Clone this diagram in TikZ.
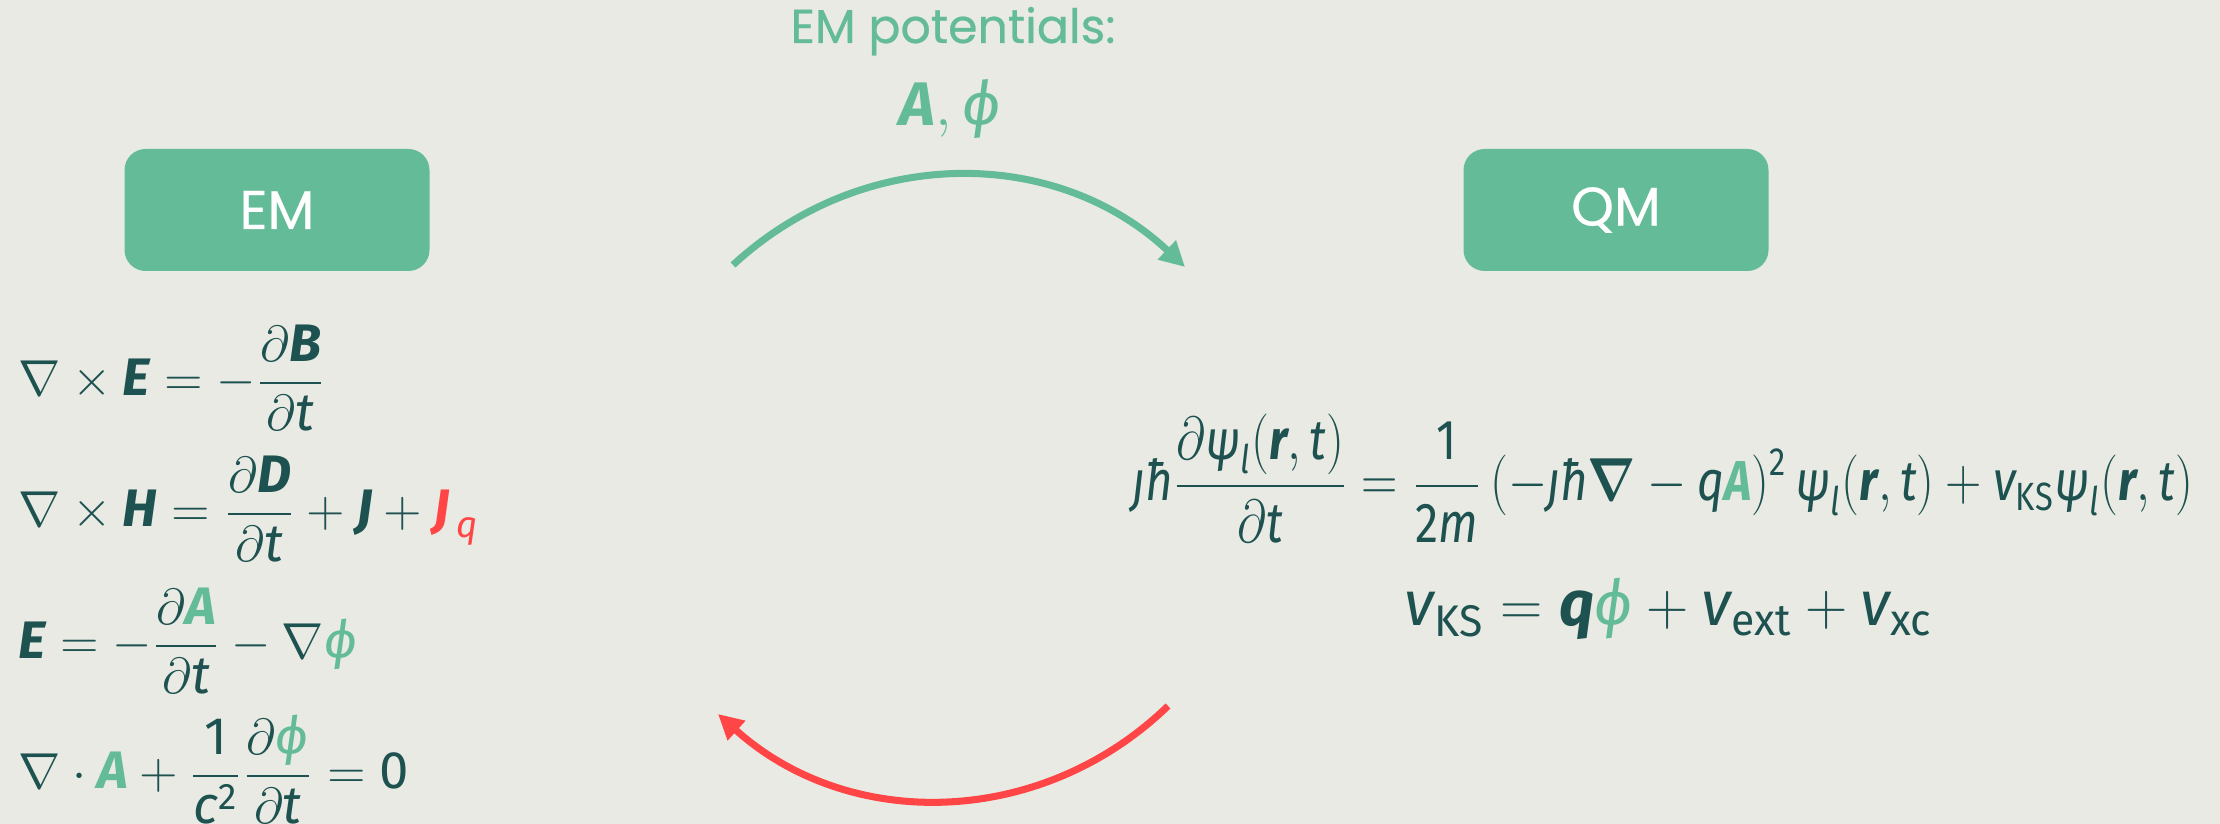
\documentclass[tikz,border=0pt]{standalone}
\usepackage{amsmath}
\IfFileExists{mathspec.sty}{%
  \usepackage{mathspec}
  \setmathsfont(Digits,Latin,Greek){Fira Sans}
  \setmathrm{Fira Sans}
}{%
  \usepackage{fontspec}
}
\newfontfamily\labelfont{Poppins}[FakeBold=0.5]
\newfontfamily\vecfont{Fira Sans}
\usepackage{xcolor}
\usepackage{tikz}
\usetikzlibrary{arrows.meta, positioning}
\definecolor{bggray}{RGB}{233,234,228}
\definecolor{emgreen}{RGB}{100,187,151}
\definecolor{eqdark}{RGB}{30,82,80}
\definecolor{hotred}{RGB}{255,69,69}
\newcommand{\vect}[1]{\text{\vecfont\bfseries\itshape #1}}
\newcommand{\jh}{\text{\vecfont\itshape ȷħ}}
\newcommand{\pot}{\textcolor{emgreen}{\varphi}}
\tikzset{
  tagbox/.style={rectangle, fill=emgreen, rounded corners=6pt,
    minimum width=3.05cm, minimum height=1.22cm, text=white,
    font=\labelfont\fontsize{15.5}{18}\selectfont},
  eqn/.style={anchor=base west, inner sep=0pt, text=eqdark,
    font=\fontsize{15}{18}\selectfont},
  flow/.style={-{Triangle[length=0.25cm, width=0.25cm]}, line width=2pt}
}

\begin{document}
\begin{tikzpicture}
  \useasboundingbox[fill=bggray] (0,0) rectangle (22.2,-8.24);

  % Boxes
  \node[tagbox] (em) at (2.77,-2.10) {EM};
  \node[tagbox] (qm) at (16.16,-2.10) {QM};

  % Potentials handed over
  \node[anchor=base, text=emgreen, font=\labelfont\fontsize{13.5}{16}\selectfont] (pot) at (9.53,-0.43) {EM potentials:};
  \node[anchor=base, text=emgreen, font=\fontsize{17.5}{21}\selectfont] (fields) at (9.50,-1.26) {$\vect{A}, \varphi$};

  % Maxwell side
  \node[eqn] (faraday) at (0.18,-3.96) {$\displaystyle \nabla\times\vect{E}=-\frac{\partial\vect{B}}{\partial t}$};
  \node[eqn] (ampere) at (0.18,-5.27) {$\displaystyle \nabla\times\vect{H}=\frac{\partial\vect{D}}{\partial t}+\vect{J}+\textcolor{hotred}{\vect{J}_{\,q}}$};
  \node[eqn] (efield) at (0.18,-6.59) {$\displaystyle \vect{E}=-\frac{\partial\textcolor{emgreen}{\vect{A}}}{\partial t}-\nabla\pot$};
  \node[eqn] (gauge) at (0.18,-7.89) {$\displaystyle \nabla\cdot\textcolor{emgreen}{\vect{A}}+\frac{1}{c^2}\frac{\partial\pot}{\partial t}=0$};

  % Kohn-Sham side
  \node[eqn, font=\fontsize{16}{19}\selectfont] (tdks) at (11.32,-5.01) {\scalebox{0.83}[1]{$\displaystyle \jh\frac{\partial\psi_l(\vect{r},t)}{\partial t}=\frac{1}{2m}\,(-\jh\boldsymbol{\nabla}-q\textcolor{emgreen}{\vect{A}})^2\,\psi_l(\vect{r},t)+v_{\mathrm{KS}}\psi_l(\vect{r},t)$}};
  \node[eqn, font=\fontsize{18}{22}\selectfont] (vks) at (14.04,-6.26) {\scalebox{0.965}[1]{$v_{\mathrm{KS}}=\vect{q}\pot+v_{\mathrm{ext}}+v_{\mathrm{xc}}$}};

  % Coupling arrows
  \coordinate (gstart) at (7.33,-2.65);
  \coordinate (gend) at (11.85,-2.67);
  \coordinate (rstart) at (11.68,-7.06);
  \coordinate (rend) at (7.18,-7.14);
  \draw[flow, emgreen] (gstart) to[bend left=43] (gend);
  \draw[flow, hotred] (rstart) to[bend left=43] (rend);
\end{tikzpicture}
\end{document}
